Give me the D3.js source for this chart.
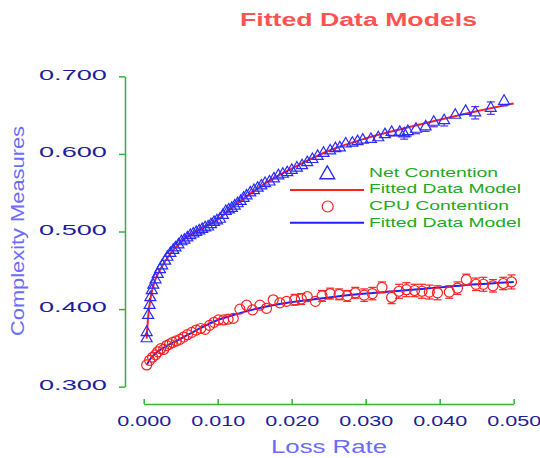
<!DOCTYPE html>
<html>
<head>
<meta charset="utf-8">
<script src="https://cdn.jsdelivr.net/npm/d3@7"></script>
<style>
  body { margin: 0; background: #fff; }
  svg { display: block; font-family: "Liberation Sans", Arial, sans-serif; }
</style>
</head>
<body>
<svg id="chart" width="540" height="458"></svg>
<script>
// Net Contention: [loss rate, complexity, error]
var net_points = [
    [0.0004, 0.362, 0.003], [0.0004, 0.370, 0.003], [0.0006, 0.392, 0.003], [0.0008, 0.405, 0.003],
    [0.0009, 0.415, 0.003], [0.0011, 0.424, 0.003], [0.0013, 0.431, 0.003], [0.0016, 0.438, 0.003],
    [0.0019, 0.445, 0.003], [0.0022, 0.451, 0.003], [0.0025, 0.456, 0.003], [0.0029, 0.462, 0.003],
    [0.0032, 0.467, 0.003], [0.0036, 0.472, 0.003], [0.0040, 0.476, 0.003], [0.0043, 0.479, 0.003],
    [0.0047, 0.483, 0.003], [0.0051, 0.487, 0.003], [0.0055, 0.489, 0.003], [0.0059, 0.492, 0.003],
    [0.0063, 0.495, 0.003], [0.0067, 0.497, 0.003], [0.0071, 0.499, 0.003], [0.0075, 0.501, 0.003],
    [0.0079, 0.503, 0.003], [0.0083, 0.505, 0.003], [0.0087, 0.506, 0.003], [0.0091, 0.509, 0.004],
    [0.0095, 0.512, 0.004], [0.0099, 0.514, 0.004], [0.0103, 0.516, 0.004], [0.0107, 0.521, 0.004],
    [0.0111, 0.526, 0.004], [0.0115, 0.528, 0.004], [0.0119, 0.530, 0.004], [0.0123, 0.533, 0.004],
    [0.0127, 0.536, 0.004], [0.0131, 0.539, 0.004], [0.0135, 0.543, 0.004], [0.0139, 0.546, 0.004],
    [0.0144, 0.550, 0.004], [0.0149, 0.553, 0.004], [0.0154, 0.556, 0.004], [0.0159, 0.559, 0.004],
    [0.0164, 0.562, 0.004], [0.0170, 0.564, 0.004], [0.0176, 0.568, 0.004], [0.0182, 0.572, 0.004],
    [0.0188, 0.574, 0.004], [0.0194, 0.576, 0.004], [0.0200, 0.579, 0.004], [0.0207, 0.582, 0.004],
    [0.0214, 0.585, 0.004], [0.0221, 0.589, 0.004], [0.0228, 0.593, 0.004], [0.0235, 0.597, 0.004],
    [0.0243, 0.601, 0.004], [0.0252, 0.604, 0.004], [0.0259, 0.607, 0.004], [0.0265, 0.608, 0.004],
    [0.0273, 0.613, 0.004], [0.0282, 0.614, 0.004], [0.0289, 0.616, 0.004], [0.0296, 0.618, 0.004],
    [0.0307, 0.619, 0.004], [0.0317, 0.621, 0.004], [0.0326, 0.625, 0.004], [0.0335, 0.628, 0.005],
    [0.0346, 0.628, 0.005], [0.0352, 0.626, 0.007], [0.0357, 0.629, 0.006], [0.0368, 0.632, 0.006],
    [0.0381, 0.635, 0.006], [0.0392, 0.641, 0.006], [0.0406, 0.643, 0.007], [0.0421, 0.650, 0.004],
    [0.0435, 0.655, 0.004], [0.0448, 0.653, 0.008], [0.0469, 0.659, 0.008], [0.0487, 0.668, 0.006]
];

// CPU Contention: [loss rate, complexity, error]
var cpu_points = [
    [0.0004, 0.328, 0.002], [0.0008, 0.334, 0.003], [0.0012, 0.338, 0.003], [0.0016, 0.341, 0.003],
    [0.0019, 0.345, 0.003], [0.0023, 0.349, 0.004], [0.0027, 0.348, 0.004], [0.0031, 0.353, 0.004],
    [0.0035, 0.355, 0.004], [0.0039, 0.357, 0.004], [0.0044, 0.359, 0.004], [0.0049, 0.361, 0.004],
    [0.0054, 0.364, 0.005], [0.0059, 0.367, 0.005], [0.0065, 0.370, 0.005], [0.0071, 0.373, 0.005],
    [0.0077, 0.375, 0.005], [0.0083, 0.374, 0.005], [0.0089, 0.379, 0.005], [0.0095, 0.383, 0.005],
    [0.0101, 0.386, 0.005], [0.0108, 0.386, 0.005], [0.0114, 0.387, 0.006], [0.0121, 0.388, 0.006],
    [0.0130, 0.400, 0.006], [0.0139, 0.405, 0.006], [0.0147, 0.399, 0.006], [0.0157, 0.405, 0.006],
    [0.0166, 0.401, 0.006], [0.0175, 0.412, 0.006], [0.0184, 0.408, 0.006], [0.0193, 0.410, 0.006],
    [0.0204, 0.412, 0.007], [0.0213, 0.413, 0.007], [0.0221, 0.416, 0.006], [0.0232, 0.410, 0.006],
    [0.0241, 0.417, 0.007], [0.0252, 0.420, 0.007], [0.0264, 0.419, 0.007], [0.0275, 0.417, 0.007],
    [0.0286, 0.421, 0.007], [0.0298, 0.418, 0.008], [0.0309, 0.420, 0.008], [0.0322, 0.428, 0.007],
    [0.0335, 0.415, 0.008], [0.0345, 0.423, 0.009], [0.0355, 0.425, 0.009], [0.0366, 0.424, 0.008],
    [0.0376, 0.423, 0.009], [0.0386, 0.422, 0.009], [0.0397, 0.421, 0.009], [0.0413, 0.422, 0.008],
    [0.0424, 0.427, 0.008], [0.0436, 0.438, 0.007], [0.0449, 0.432, 0.008], [0.0459, 0.432, 0.009],
    [0.0472, 0.430, 0.008], [0.0486, 0.433, 0.008], [0.0497, 0.435, 0.009]
];

// fitted models
var net_fit = [
    [0.0004, 0.362], [0.0006, 0.390], [0.0010, 0.418], [0.0015, 0.436], [0.0020, 0.447],
    [0.0030, 0.463], [0.0040, 0.476], [0.0050, 0.486], [0.0060, 0.494], [0.0080, 0.505],
    [0.0100, 0.515], [0.0120, 0.531], [0.0150, 0.553], [0.0180, 0.571], [0.0200, 0.581],
    [0.0250, 0.604], [0.0300, 0.620], [0.0350, 0.6325], [0.0400, 0.644], [0.0450, 0.655],
    [0.0500, 0.665]
];
var cpu_fit = [
    [0.0004, 0.328], [0.0010, 0.337], [0.0020, 0.346], [0.0030, 0.352], [0.0040, 0.357],
    [0.0050, 0.362], [0.0060, 0.367], [0.0080, 0.377], [0.0100, 0.386], [0.0120, 0.392],
    [0.0150, 0.400], [0.0180, 0.406], [0.0200, 0.409], [0.0250, 0.415], [0.0300, 0.420],
    [0.0350, 0.424], [0.0400, 0.428], [0.0450, 0.432], [0.0500, 0.435]
];

var x_ticks = [0.000, 0.010, 0.020, 0.030, 0.040, 0.050];
var y_ticks = [0.300, 0.400, 0.500, 0.600, 0.700];
var legend_labels = ["Net Contention", "Fitted Data Model", "CPU Contention", "Fitted Data Model"];

var svg = d3.select("#chart");
var axis_green = "#33b533";
var tick_navy = "#1e1e9a";

var xs = d3.scaleLinear().domain([0, 0.05]).range([143.7, 513.7]);
var ys = d3.scaleLinear().domain([0.3, 0.7]).range([386.7, 76.3]);

// title
svg.append("text")
    .attr("x", 240).attr("y", 26)
    .attr("textLength", 237).attr("lengthAdjust", "spacingAndGlyphs")
    .style("font-size", "17.5px").style("font-weight", "bold")
    .style("fill", "#ff5252")
    .text("Fitted Data Models");

// axes
var yaxis = svg.append("g")
    .attr("transform", "translate(125,0)")
    .call(d3.axisLeft(ys).tickValues(y_ticks).tickSizeInner(6).tickSizeOuter(0)
        .tickPadding(12).tickFormat(d3.format(".3f")));
var xaxis = svg.append("g")
    .attr("transform", "translate(0,404)")
    .call(d3.axisBottom(xs).tickValues(x_ticks).tickSizeInner(-5).tickSizeOuter(0)
        .tickPadding(12).tickFormat(d3.format(".3f")));

[yaxis, xaxis].forEach(function(ax) {
    ax.select(".domain").attr("stroke", axis_green).attr("stroke-width", 1.5);
    ax.selectAll(".tick line").attr("stroke", axis_green).attr("stroke-width", 1.5);
    ax.selectAll(".tick text")
        .attr("fill", tick_navy)
        .style("font-size", "14px")
        .style("font-family", "'Liberation Sans', Arial, sans-serif")
        .attr("lengthAdjust", "spacingAndGlyphs");
});
yaxis.selectAll(".tick text").attr("textLength", 68).attr("dy", "0.2em");
xaxis.selectAll(".tick text").attr("textLength", 54);

svg.append("text")
    .attr("x", 329).attr("y", 452.7)
    .attr("text-anchor", "middle")
    .attr("textLength", 116).attr("lengthAdjust", "spacingAndGlyphs")
    .style("font-size", "17.5px").style("fill", "#6b6bff")
    .text("Loss Rate");

svg.append("text")
    .attr("transform", "translate(24,231) rotate(-90)")
    .attr("text-anchor", "middle")
    .attr("textLength", 210).attr("lengthAdjust", "spacingAndGlyphs")
    .style("font-size", "17.5px").style("fill", "#6b6bff")
    .text("Complexity Measures");

// error bars (only outside the symbol)
function draw_errors(data, color, top_gap, bottom_gap) {
    var g = svg.append("g").attr("stroke", color).attr("stroke-width", 1.2).attr("fill", "none");
    data.forEach(function(d) {
        var cx = xs(d[0]), cy = ys(d[1]);
        var hi = ys(d[1] + d[2]), lo = ys(d[1] - d[2]);
        if (cy - hi > top_gap) {
            g.append("line").attr("x1", cx).attr("x2", cx).attr("y1", hi).attr("y2", cy - top_gap);
            g.append("line").attr("x1", cx - 4).attr("x2", cx + 4).attr("y1", hi).attr("y2", hi);
        }
        if (lo - cy > bottom_gap) {
            g.append("line").attr("x1", cx).attr("x2", cx).attr("y1", cy + bottom_gap).attr("y2", lo);
            g.append("line").attr("x1", cx - 4).attr("x2", cx + 4).attr("y1", lo).attr("y2", lo);
        }
    });
}

var line = d3.line().curve(d3.curveMonotoneX).x(d => xs(d[0])).y(d => ys(d[1]));

// fitted curves
svg.append("path").datum(net_fit)
    .attr("fill", "none").attr("stroke", "#ff2020").attr("stroke-width", 2).attr("d", line);
svg.append("path").datum(cpu_fit)
    .attr("fill", "none").attr("stroke", "#2020ff").attr("stroke-width", 2).attr("d", line);

draw_errors(net_points, "#5533ee", 6, 3.5);
draw_errors(cpu_points, "#ff2020", 5, 5);

var tri = d3.symbol().type(d3.symbolTriangle).size(52);

svg.append("g").selectAll("path")
    .data(net_points).enter().append("path")
    .attr("transform", d => "translate(" + xs(d[0]) + "," + ys(d[1]) + ")")
    .attr("d", tri)
    .attr("fill", "none").attr("stroke", "#2a2aff").attr("stroke-width", 1.2);

svg.append("g").selectAll("circle")
    .data(cpu_points).enter().append("circle")
    .attr("cx", d => xs(d[0])).attr("cy", d => ys(d[1])).attr("r", 5)
    .attr("fill", "none").attr("stroke", "#ff2020").attr("stroke-width", 1.2);

// legend
var legend_y = [176.7, 193.3, 210, 226.7];
var legend_w = [129, 152, 140, 152];
svg.append("g").selectAll("text")
    .data(legend_labels).enter().append("text")
    .attr("x", 369).attr("y", (d, i) => legend_y[i])
    .attr("textLength", (d, i) => legend_w[i]).attr("lengthAdjust", "spacingAndGlyphs")
    .style("font-size", "13.5px").style("fill", "#22a822")
    .text(d => d);

svg.append("path")
    .attr("transform", "translate(327.3,174.5) scale(1.35)")
    .attr("d", tri)
    .attr("fill", "none").attr("stroke", "#2a2aff").attr("stroke-width", 1);
svg.append("line")
    .attr("x1", 290).attr("x2", 364).attr("y1", 190).attr("y2", 190)
    .attr("stroke", "#ff2020").attr("stroke-width", 2);
svg.append("circle")
    .attr("cx", 327.7).attr("cy", 206.5).attr("r", 5.5)
    .attr("fill", "none").attr("stroke", "#ff2020").attr("stroke-width", 1.2);
svg.append("line")
    .attr("x1", 290).attr("x2", 364).attr("y1", 222.7).attr("y2", 222.7)
    .attr("stroke", "#2020ff").attr("stroke-width", 2);
</script>
</body>
</html>
